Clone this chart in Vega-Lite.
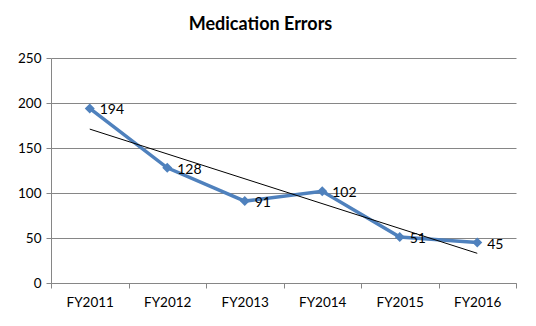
{
  "$schema": "https://vega.github.io/schema/vega-lite/v6.json",
  "autosize": {"type": "none"},
  "width": 465,
  "height": 225,
  "padding": {"left": 51, "top": 58, "right": 20, "bottom": 43},
  "background": "white",
  "title": {
    "text": "Medication Errors",
    "font": "Lato",
    "fontSize": 18,
    "fontWeight": "bold",
    "color": "#000000",
    "anchor": "middle",
    "dx": -23,
    "offset": 17
  },
  "config": {
    "view": {"stroke": null},
    "axis": {"labelFont": "Lato", "labelFontSize": 13.5, "labelColor": "#000000", "domainColor": "#868686", "tickColor": "#868686", "gridColor": "#868686", "titleFont": "Lato"}
  },
  "datasets": {
    "errors": [
      {"year": "FY2011", "count": 194},
      {"year": "FY2012", "count": 128},
      {"year": "FY2013", "count": 91},
      {"year": "FY2014", "count": 102},
      {"year": "FY2015", "count": 51},
      {"year": "FY2016", "count": 45}
    ],
    "trend": [
      {"year": "FY2011", "count": 171},
      {"year": "FY2016", "count": 33}
    ]
  },
  "layer": [
    {
      "data": {"name": "errors"},
      "mark": {"type": "line", "color": "#4F81BD", "strokeWidth": 3.5},
      "encoding": {
        "x": {"field": "year", "type": "ordinal", "scale": {"type": "band", "paddingInner": 0, "paddingOuter": 0},
          "axis": {"title": null, "labelAngle": 0, "tickBand": "extent", "labelPadding": 7, "tickSize": 5, "grid": false}},
        "y": {"field": "count", "type": "quantitative", "scale": {"domain": [0, 250], "nice": false},
          "axis": {"title": null, "values": [0, 50, 100, 150, 200, 250], "tickSize": 5, "labelPadding": 5, "grid": true, "gridWidth": 1}}
      }
    },
    {
      "data": {"name": "errors"},
      "mark": {"type": "point", "shape": "diamond", "filled": true, "color": "#4F81BD", "size": 100, "opacity": 1},
      "encoding": {
        "x": {"field": "year", "type": "ordinal"},
        "y": {"field": "count", "type": "quantitative"}
      }
    },
    {
      "data": {"name": "trend"},
      "mark": {"type": "line", "color": "#000000", "strokeWidth": 1},
      "encoding": {
        "x": {"field": "year", "type": "ordinal"},
        "y": {"field": "count", "type": "quantitative"}
      }
    },
    {
      "data": {"name": "errors"},
      "mark": {"type": "text", "align": "left", "baseline": "middle", "dx": 10, "dy": 2, "font": "Lato", "fontSize": 14, "color": "#000000"},
      "encoding": {
        "x": {"field": "year", "type": "ordinal"},
        "y": {"field": "count", "type": "quantitative"},
        "text": {"field": "count", "type": "quantitative"}
      }
    }
  ]
}
